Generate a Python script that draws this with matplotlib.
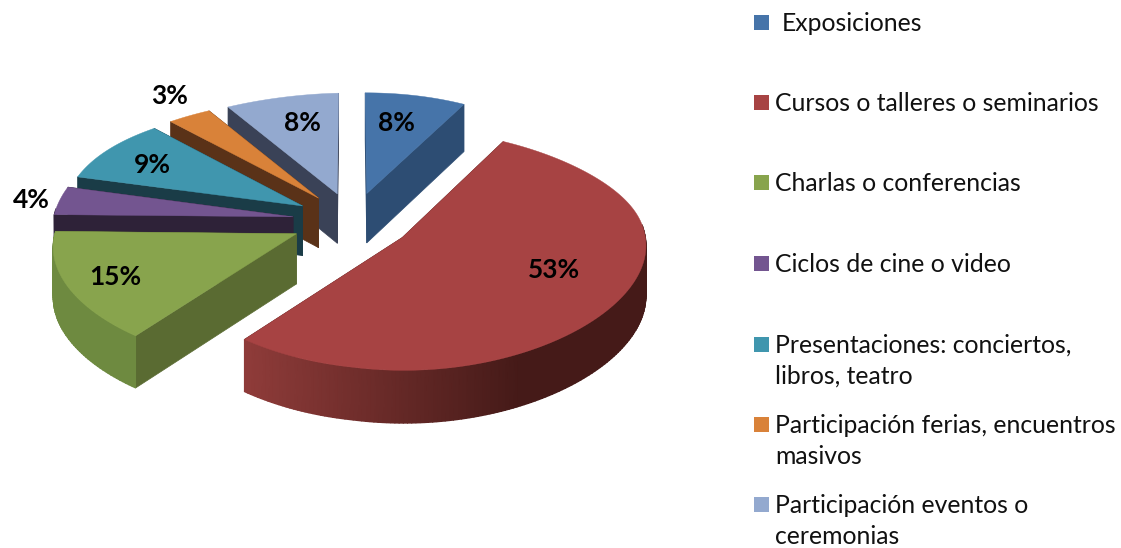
import numpy as np
import matplotlib
matplotlib.use("Agg")
import matplotlib.pyplot as plt
from matplotlib.colors import LinearSegmentedColormap
from matplotlib.patches import Polygon, Rectangle

plt.rcParams['font.family'] = ['Lato', 'DejaVu Sans']

# Data
categories = ["Exposiciones", "Cursos o talleres o seminarios", "Charlas o conferencias",
              "Ciclos de cine o video", "Presentaciones: conciertos,\nlibros, teatro",
              "Participación ferias, encuentros\nmasivos", "Participación eventos o\nceremonias"]
values = [8, 53, 15, 4, 9, 3, 8]

# Styles
top_colors = ["#4674a9", "#a74343", "#88a44d", "#735590", "#4096ae", "#d98239", "#93a9cf"]
side_colors = ["#2d4d73", "#5a2220", "#5a6b32", "#2e2238", "#1a3c47", "#5a3218", "#3a4257"]
wall_near = ["#2d4d73", "#8e3b39", "#6e8a40", "#2e2238", "#1a3c47", "#5a3218", "#3a4257"]
wall_far = ["#2d4d73", "#451a18", "#7c9a48", "#2e2238", "#1a3c47", "#5a3218", "#3a4257"]
draw_order = [0, 6, 5, 4, 3, 2, 1]

# Layout in pixels
cx, cy = 352.0, 221.0
rx, ry = 241.0, 116.0
persp_x1, persp_x2, persp_xy, persp_y = 0.067, 0.031, 0.083, 0.10
tilt = 5.0
depth = 50.0
explode = 0.25
label_xy = [(396, 123), (554, 270), (115, 277), (31, 200), (152, 165), (170, 96), (302, 123)]
legend_y = [22, 102, 182, 263, 344, 424, 504]
legend_x = [782, 775, 775, 775, 775, 775, 775]


def project(x, y, z=0.0):
    wx = 1 + persp_x1 * y + persp_x2 * y * y + persp_xy * x * max(y, 0) ** 2
    wy = 1 + persp_y * y
    sy = cy - ry * y / wy + tilt * max(-x, 0) + depth * z * (1 - 0.05 * y)
    return cx + rx * x / wx, sy


fig = plt.figure(figsize=(11.21, 5.48), dpi=100)
ax = fig.add_axes([0, 0, 1, 1])
ax.set_xlim(0, 1121)
ax.set_ylim(548, 0)
ax.axis("off")

edges = np.cumsum([0] + values) / sum(values) * 2 * np.pi

for i in draw_order:
    a0, a1 = edges[i], edges[i + 1]
    mid = (a0 + a1) / 2
    ox, oy = explode * np.sin(mid), explode * np.cos(mid)
    ang = np.linspace(a0, a1, max(int((a1 - a0) * 60), 4))
    xs, ys = ox + np.sin(ang), oy + np.cos(ang)
    order = 2 + draw_order.index(i) * 0.01

    # radial walls, far one first
    for a in sorted([a0, a1], key=lambda v: -np.cos(v)):
        ex, ey = ox + np.sin(a), oy + np.cos(a)
        pts = [project(ox, oy), project(ex, ey), project(ex, ey, 1), project(ox, oy, 1)]
        ax.add_patch(Polygon(pts, closed=True, fc=side_colors[i], ec=side_colors[i], lw=0.5, zorder=order))

    # outer wall, only the part facing the viewer
    keep = np.cos(ang) <= 0.12
    if keep.sum() > 1:
        upper = np.array([project(x, y) for x, y in zip(xs[keep], ys[keep])])
        lower = np.array([project(x, y, 1) for x, y in zip(xs[keep], ys[keep])])
        gx = np.vstack([upper[:, 0], lower[:, 0]])
        gy = np.vstack([upper[:, 1], lower[:, 1]])
        shade = 1 - np.clip((gx - 250) / 270, 0, 1)
        cmap = LinearSegmentedColormap.from_list("wall", [wall_far[i], wall_near[i]])
        ax.pcolormesh(gx, gy, shade, shading="gouraud", cmap=cmap, vmin=0, vmax=1, zorder=order + 0.001)

    # top face
    top = [project(ox, oy)] + [project(x, y) for x, y in zip(xs, ys)]
    ax.add_patch(Polygon(top, closed=True, fc=top_colors[i], ec=top_colors[i], lw=0.3, zorder=order + 0.002))

for v, (x, y) in zip(values, label_xy):
    ax.text(x, y, f"{v}%", ha="center", va="center", fontsize=19, fontweight="bold",
            color="black", zorder=5)

for name, y, x, c in zip(categories, legend_y, legend_x, top_colors):
    ax.add_patch(Rectangle((754, y - 7.5), 15, 15, fc=c, ec="none"))
    ax.text(x, y - 10, name, ha="left", va="top", fontsize=17.8, color="#111111", linespacing=1.42)

fig.savefig("out.png", dpi=100)
